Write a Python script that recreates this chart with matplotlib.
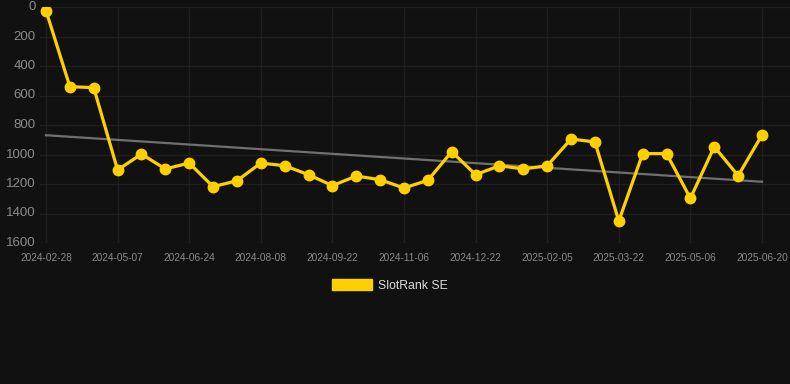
import numpy as np
import matplotlib
matplotlib.use('Agg')
import matplotlib.pyplot as plt

# rank values (lower is better, axis is reversed)
ranks = [25, 540, 547, 1105, 997, 1098, 1058, 1218, 1178, 1058, 1076,
         1137, 1211, 1146, 1171, 1227, 1175, 981, 1137, 1076, 1098,
         1076, 895, 915, 1451, 994, 994, 1297, 947, 1144, 868]
tick_labels = ['2024-02-28', '2024-05-07', '2024-06-24', '2024-08-08', '2024-09-22',
               '2024-11-06', '2024-12-22', '2025-02-05', '2025-03-22', '2025-05-06',
               '2025-06-20']
y_ticks = [0, 200, 400, 600, 800, 1000, 1200, 1400, 1600]

plt.rcParams['font.family'] = ['Liberation Sans', 'DejaVu Sans']

bg = '#111111'
fig = plt.figure(figsize=(7.9, 3.84), dpi=100, facecolor=bg)
ax = fig.add_axes([40/790, (384-243)/384, 750/790, 236/384], facecolor=bg)

x = np.arange(len(ranks))

# trend line (least squares)
k, b = np.polyfit(x, ranks, 1)
ax.plot(x, k*x + b, color='#707070', lw=1.6, zorder=2)

ax.plot(x, ranks, color='#FFD000', lw=2.3, marker='o', markersize=7.5, zorder=3,
        label='SlotRank SE')

ax.set_ylim(1600, 0)
ax.set_xlim(-6/23.87, 30 + 28/23.87)
ax.set_yticks(y_ticks)
ax.set_xticks(x[::3])
ax.set_xticklabels(tick_labels)
ax.grid(True, color='#1f1f1f', lw=1.0)
ax.set_axisbelow(True)
for s in ax.spines.values():
    s.set_visible(False)
ax.tick_params(axis='y', length=0, labelsize=9.5, colors='#8c8c8c', pad=3)
ax.tick_params(axis='x', length=0, labelsize=7.3, colors='#8a8a8a', pad=7)
for t in ax.get_yticklabels():
    t.set_verticalalignment('center')

handle = plt.Rectangle((0, 0), 1, 1, color='#FFD000')
leg = fig.legend([handle], ['SlotRank SE'], loc='center', bbox_to_anchor=(390/790, 1 - 285.5/384),
                 frameon=False, fontsize=8.8, labelcolor='#dddddd', handlelength=3.3,
                 handleheight=1.0, handletextpad=0.5)

fig.savefig('out.png', dpi=100, facecolor=bg)
